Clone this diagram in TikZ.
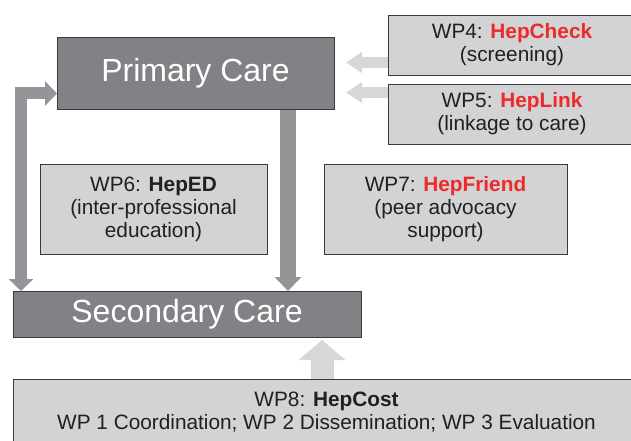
\documentclass[tikz,border=0pt]{standalone}
\usepackage{fontspec}
\setmainfont{Liberation Sans}
\usetikzlibrary{arrows.meta,backgrounds}
\definecolor{darkbox}{HTML}{808285}
\definecolor{darkarrow}{HTML}{939598}
\definecolor{lightbox}{HTML}{D1D3D4}
\definecolor{lightarrow}{HTML}{D6D7D9}
\definecolor{edge}{HTML}{3A3A3A}
\definecolor{hepred}{HTML}{EE2A2A}
\definecolor{ink}{HTML}{231F20}
\begin{document}
\begin{tikzpicture}[x=1pt,y=-1pt,
  carebox/.style={draw=edge, line width=0.9pt, fill=darkbox, text=white,
    font=\fontsize{32}{38}\selectfont, inner sep=0pt, outer sep=0pt, anchor=north west},
  wpbox/.style={draw=edge, line width=0.9pt, fill=lightbox, text=ink,
    font=\fontsize{20.8}{23}\selectfont, align=center, inner sep=0pt, outer sep=0pt, anchor=north west},
  darkflow/.style={draw=darkarrow, line join=miter},
  lightflow/.style={draw=lightarrow},
  red/.style={}]
\useasboundingbox (0,0) rectangle (631,441);
\node[carebox, minimum width=277pt, minimum height=72pt] (pc) at (57,37) {Primary Care};
\node[carebox, minimum width=348pt, minimum height=46pt] (sc) at (13,291) {Secondary Care};
\node[wpbox, minimum width=248pt, minimum height=60pt] (wp4) at (388,15)
  {WP4: \textbf{\color{hepred}HepCheck}\\(screening)};
\node[wpbox, minimum width=248pt, minimum height=60pt] (wp5) at (388,84)
  {WP5: \textbf{\color{hepred}HepLink}\\(linkage to care)};
\node[wpbox, minimum width=227pt, minimum height=90pt] (wp6) at (40,164)
  {WP6: \textbf{HepED}\\(inter-professional\\education)};
\node[wpbox, minimum width=243pt, minimum height=90pt] (wp7) at (324,164)
  {WP7: \textbf{\color{hepred}HepFriend}\\(peer advocacy\\support)};
\node[wpbox, minimum width=627pt, minimum height=67pt] (wp8) at (13,379)
  {WP8: \textbf{HepCost}\\WP 1 Coordination; WP 2 Dissemination; WP 3 Evaluation};
\coordinate (xdown) at (288,0);
\coordinate (xleft) at (21,0);
\coordinate (yleft) at (0,93.5);
\coordinate (y4) at (0,62.5);
\coordinate (y5) at (0,92.5);
\coordinate (xup) at (322,0);
\begin{pgfonlayer}{background}
\draw[darkflow, line width=16pt, -{Triangle[width=26pt,length=14pt]}]
  (pc.south -| xdown) -- (sc.north -| xdown);
\draw[darkflow, line width=12pt, {Triangle[width=24pt,length=12pt]}-{Triangle[width=24pt,length=12pt]}]
  (pc.west |- yleft) -- (xleft |- yleft) -- (sc.north -| xleft);
\draw[lightflow, line width=11pt, -{Triangle[width=20pt,length=16pt]}, shorten >=12pt]
  (wp4.west |- y4) -- (pc.east |- y4);
\draw[lightflow, line width=11pt, -{Triangle[width=20pt,length=16pt]}, shorten >=12pt]
  (wp5.west |- y5) -- (pc.east |- y5);
\draw[lightflow, line width=23pt, -{Triangle[width=46pt,length=20pt]}, shorten >=3pt]
  (wp8.north -| xup) -- (sc.south -| xup);
\end{pgfonlayer}
\end{tikzpicture}
\end{document}
